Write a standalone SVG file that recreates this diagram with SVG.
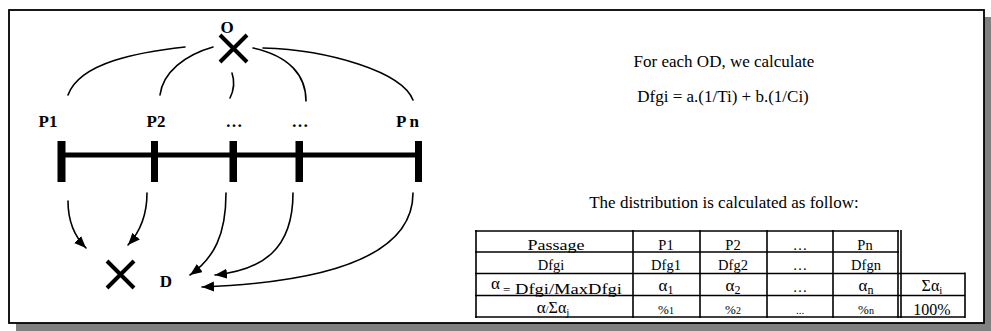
<svg xmlns="http://www.w3.org/2000/svg" width="991" height="331" viewBox="0 0 991 331">
<style>
.lbl{font-family:"Liberation Serif","Times New Roman",serif;font-weight:bold;font-size:17px;fill:#000;text-anchor:middle}
.txt{font-family:"Liberation Serif","Times New Roman",serif;font-size:17px;fill:#000;text-anchor:middle}
.cell{font-family:"Liberation Serif","Times New Roman",serif;font-size:14.5px;fill:#000;text-anchor:middle}
.cs{font-family:"Liberation Serif","Times New Roman",serif;font-size:14.5px;fill:#000;text-anchor:start}
.arc{fill:none;stroke:#000;stroke-width:1.6;stroke-linecap:round}
.cross{stroke:#000;stroke-width:4;fill:none}
.tl{stroke:#000;stroke-width:1.6}
</style>
<defs>
<marker id="ah" markerUnits="userSpaceOnUse" markerWidth="13" markerHeight="11" refX="12" refY="5" orient="auto">
<path d="M0,0 L12,5 L0,10 Z" fill="#000"/>
</marker>
</defs>
<rect x="16" y="17" width="975" height="314" fill="#808080"/>
<rect x="9" y="10" width="975" height="313" fill="#fff" stroke="#000" stroke-width="1.8"/>

<g id="line">
<rect x="61" y="152.5" width="357" height="5" fill="#000"/>
<rect x="57.5" y="141" width="8" height="41" fill="#000"/>
<rect x="151" y="141" width="7" height="41" fill="#000"/>
<rect x="229.5" y="141" width="7.5" height="41" fill="#000"/>
<rect x="295.5" y="141" width="7.5" height="41" fill="#000"/>
<rect x="415" y="141" width="7" height="41" fill="#000"/>
</g>
<g id="node-O">
<path class="cross" d="M220,35 L247,62 M247,35 L220,62"/>
<text class="lbl" x="227" y="33">O</text>
</g>
<g id="node-D">
<path class="cross" d="M107,261 L134,288 M134,261 L107,288"/>
<text class="lbl" x="166" y="287">D</text>
</g>
<g id="labels">
<text class="lbl" x="48" y="127">P1</text>
<text class="lbl" x="156" y="127">P2</text>
<text class="lbl" x="234" y="127">…</text>
<text class="lbl" x="300" y="127">…</text>
<text class="lbl" x="409" y="127" letter-spacing="3">Pn</text>
</g>
<g id="connectors">
<path class="arc" d="M185,47 C140,52 80,62 68,95"/>
<path class="arc" d="M213,47 C185,55 163,72 160,95"/>
<path class="arc" d="M232,73 C235,82 234,90 230,98"/>
<path class="arc" d="M253,48 C290,56 306,76 306,101"/>
<path class="arc" d="M263,48 C330,50 402,72 413,100"/>
<path class="arc" d="M68,201 C68,222 74,236 86,248" marker-end="url(#ah)"/>
<path class="arc" d="M147,193 C147,215 140,232 128,245" marker-end="url(#ah)"/>
<path class="arc" d="M226,193 C226,235 214,258 190,275" marker-end="url(#ah)"/>
<path class="arc" d="M293,193 C293,250 262,270 215,275" marker-end="url(#ah)"/>
<path class="arc" d="M413,193 C413,255 330,282 202,287" marker-end="url(#ah)"/>
</g>
<g id="texts">
<text class="txt" x="724" y="67">For each OD, we calculate</text>
<text class="txt" x="723" y="102">Dfgi = a.(1/Ti) + b.(1/Ci)</text>
<text class="txt" x="724" y="208">The distribution is calculated as follow:</text>
</g>
<g id="table">
<line class="tl" x1="475" y1="231" x2="899" y2="231"/>
<line class="tl" x1="475" y1="252" x2="899" y2="252"/>
<line class="tl" x1="475" y1="273.5" x2="965" y2="273.5"/>
<line class="tl" x1="475" y1="295.5" x2="965" y2="295.5"/>
<line class="tl" x1="475" y1="317" x2="965" y2="317" stroke-width="2"/>
<line class="tl" x1="476" y1="230" x2="476" y2="318" stroke-width="2.2"/>
<line class="tl" x1="633" y1="230" x2="633" y2="318"/>
<line class="tl" x1="700" y1="230" x2="700" y2="318"/>
<line class="tl" x1="767" y1="230" x2="767" y2="318" stroke-width="3"/>
<line class="tl" x1="833" y1="230" x2="833" y2="318" stroke-width="2"/>
<line class="tl" x1="898" y1="230" x2="898" y2="318" stroke-width="1.5"/>
<line class="tl" x1="901" y1="230" x2="901" y2="318" stroke-width="1.5"/>
<line class="tl" x1="965" y1="272.5" x2="965" y2="318" stroke-width="3"/>
<text class="cell" x="556" y="250" textLength="57" lengthAdjust="spacingAndGlyphs">Passage</text>
<text class="cell" x="666" y="250">P1</text>
<text class="cell" x="733" y="250">P2</text>
<text class="cell" x="800" y="250">…</text>
<text class="cell" x="865" y="250">Pn</text>
<text class="cell" x="551" y="270">Dfgi</text>
<text class="cell" x="666" y="270">Dfg1</text>
<text class="cell" x="733" y="270">Dfg2</text>
<text class="cell" x="800" y="270">…</text>
<text class="cell" x="866" y="270">Dfgn</text>
<text class="cs" x="491" y="289" style="font-size:17px">α</text>
<text class="cs" x="503" y="294" style="font-size:13px">=</text>
<text class="cs" x="515" y="294" textLength="107" lengthAdjust="spacingAndGlyphs">Dfgi/MaxDfgi</text>
<text class="cell" x="666" y="291"><tspan font-size="17">α</tspan><tspan font-size="12" dy="3">1</tspan></text>
<text class="cell" x="733" y="291"><tspan font-size="17">α</tspan><tspan font-size="12" dy="3">2</tspan></text>
<text class="cell" x="800" y="292">…</text>
<text class="cell" x="866" y="291"><tspan font-size="17">α</tspan><tspan font-size="12" dy="3">n</tspan></text>
<text class="cell" x="932" y="291"><tspan font-size="16">Σα</tspan><tspan font-size="11" dy="3">i</tspan></text>
<text class="cell" x="553" y="313"><tspan font-size="17">α</tspan><tspan font-size="11">/</tspan><tspan font-size="16">Σα</tspan><tspan font-size="11" dy="3">j</tspan></text>
<text class="cell" x="666" y="314"><tspan font-size="13">%</tspan><tspan font-size="10">1</tspan></text>
<text class="cell" x="733" y="314"><tspan font-size="13">%</tspan><tspan font-size="10">2</tspan></text>
<text class="cell" x="800" y="314" style="font-size:11px">...</text>
<text class="cell" x="866" y="314"><tspan font-size="13">%</tspan><tspan font-size="10">n</tspan></text>
<text class="cell" x="932" y="315" style="font-size:16px">100%</text>
</g>
</svg>
